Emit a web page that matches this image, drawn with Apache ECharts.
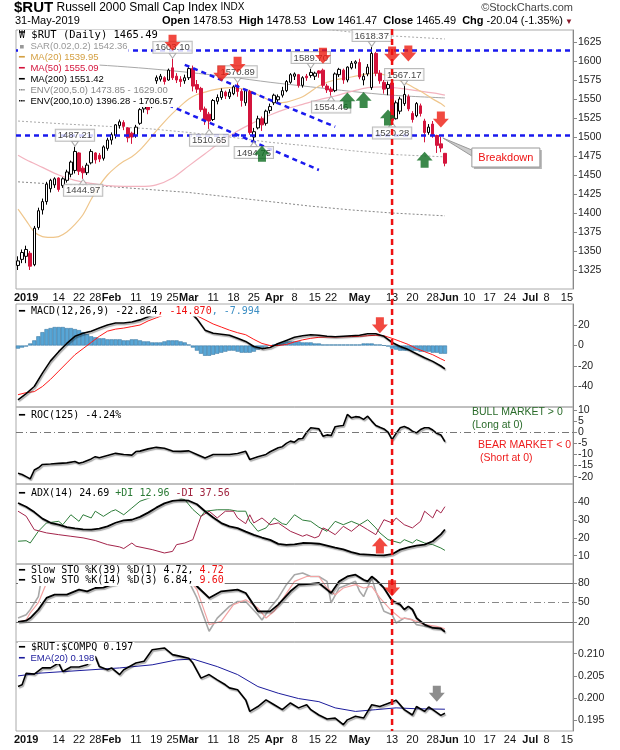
<!DOCTYPE html>
<html>
<head>
<meta charset="utf-8">
<script src="https://cdn.jsdelivr.net/npm/echarts@6/dist/echarts.min.js"></script>
<style>
  html, body { margin: 0; padding: 0; background: #fff; }
  #chart { width: 620px; height: 750px; }
</style>
</head>
<body>
<div id="chart"></div>
<script>
// trading days on the axis: Dec 28 2018 .. Jul 16 2019 (data ends May 31)
var daysDec18 = [28, 31];
var daysJan = [2,3,4,7,8,9,10,11,14,15,16,17,18,22,23,24,25,28,29,30,31];
var daysFeb = [1,4,5,6,7,8,11,12,13,14,15,19,20,21,22,25,26,27,28];
var daysMar = [1,4,5,6,7,8,11,12,13,14,15,18,19,20,21,22,25,26,27,28,29];
var daysApr = [1,2,3,4,5,8,9,10,11,12,15,16,17,18,22,23,24,25,26,29,30];
var daysMay = [1,2,3,6,7,8,9,10,13,14,15,16,17,20,21,22,23,24,28,29,30,31];
var daysJun = [3,4,5,6,7,10,11,12,13,14,17,18,19,20,21,24,25,26,27,28];
var daysJul = [1,2,3,5,8,9,10,11,12,15,16];
var monthNames = ['Jan','Feb','Mar','Apr','May','Jun','Jul','Aug','Sep','Oct','Nov','Dec'];

// $RUT daily candles from Dec 28 2018
var opens = [
  1331,1339,1343,1347,1332,1381,1404,1415,1432,1437,
  1446,1436,1443,1451,1456,1479,1459,1453,1466,1479,
  1476,1472,1485,1496,1502,1515,1519,1512,1505,1502,
  1518,1537,1540,1540,1574,1576,1578,1575,1591,1580,
  1576,1574,1578,1590,1569,1564,1537,1530,1523,1547,
  1552,1559,1553,1557,1568,1560,1545,1560,1500,1512,
  1524,1518,1535,1545,1549,1555,1561,1572,1580,1582,
  1568,1580,1581,1580,1587,1588,1567,1563,1561,1582,
  1588,1575,1591,1597,1598,1575,1583,1565,1610,1584,
  1572,1564,1571,1524,1534,1544,1553,1531,1528,1541,
  1521,1506,1517,1502,1491,1478.53];
var closes = [
  1337,1348,1352,1330,1380,1403,1415,1438,1443,1445,
  1431,1445,1454,1467,1481,1455,1453,1463,1481,1470,
  1471,1487,1496,1503,1516,1520,1514,1499,1500,1513,
  1536,1540,1536,1565,1578,1580,1573,1588,1578,1575,
  1573,1578,1590,1567,1563,1536,1522,1521,1548,1552,
  1560,1554,1559,1566,1560,1548,1561,1506,1507,1524,
  1516,1534,1540,1555,1553,1561,1573,1582,1583,1568,
  1578,1578,1585,1584,1584,1568,1562,1560,1583,1589,
  1575,1592,1597,1599,1579,1580,1592,1610,1584,1574,
  1563,1569,1522,1545,1550,1556,1537,1523,1544,1531,
  1506,1513,1503,1489,1485.53,1465.49];
var lows = [
  1325,1334,1334,1325,1330,1378,1398,1411,1427,1433,
  1428,1433,1440,1447,1452,1450,1444.97,1450,1464,1465,
  1467,1469,1482,1490,1498,1511,1509,1493,1491,1499,
  1516,1532,1530,1538,1570,1573,1569,1574,1575,1571,
  1566,1570,1575,1560,1558,1533,1516,1510.65,1521,1543,
  1549,1550,1550,1555,1553,1540,1541,1503,1494.75,1510,
  1508,1515,1531,1542,1546,1552,1559,1570,1575,1565,
  1565,1574,1578,1575,1578,1565,1558,1554.46,1559,1579,
  1570,1572,1589,1590,1576,1568,1580,1562,1580,1570,
  1557,1555,1520.28,1523,1530,1541,1534,1519,1526,1527,
  1493,1503,1499,1479,1480,1461.47];
var highs = [
  1343,1352,1357,1350,1383,1407,1419,1441,1445,1447,
  1447,1447,1457,1469,1487.21,1480,1462,1466,1484,1480,
  1479,1489,1499,1506,1517,1523,1522,1513,1507,1516,
  1538,1545,1543,1567,1581,1583,1580,1590,1603.10,1584,
  1580,1582,1592,1594,1575,1566,1540,1533,1550,1556,
  1564,1561,1563,1568,1570.89,1563,1563,1562,1512,1528,
  1527,1536,1544,1557,1556,1566,1575,1584,1585,1583,
  1580,1583,1589.70,1586,1588,1590,1570,1566,1585,1591,
  1590,1593,1600,1601,1603,1584,1596,1618.37,1612,1588,
  1575,1573,1573,1548,1553,1567.17,1556,1534,1546,1544,
  1524,1517,1521,1503,1500,1478.53];

// overlays: [trading day (0 = Jan 2), value]
var ma20 = [[-2,1405],[0,1390],[2,1375],[4,1369],[6,1368],[8,1369],[10,1375],[12,1385],[14,1398],[16,1418],[18,1436],[20,1450],[22,1460],[24,1468],[26,1474],[28,1483],[30,1495],[32,1508],[34,1520],[36,1531],[38,1541],[40,1550],[42,1556],[44,1559],[46,1562],[48,1564],[50,1565],[52,1564],[54,1563],[56,1558],[58,1553],[60,1548],[62,1545],[64,1546],[66,1549],[68,1553],[70,1560],[72,1567],[74,1572],[76,1575],[78,1577],[80,1579],[82,1581],[84,1583],[86,1584],[88,1582],[90,1579],[92,1574],[94,1569],[96,1563],[98,1557],[100,1550],[102,1544],[103,1539.95]];
var ma50 = [[-2,1476],[0,1470],[4,1460],[8,1450],[12,1443],[16,1439],[20,1436],[24,1435],[28,1435],[32,1437],[36,1446],[40,1462],[44,1478],[48,1494],[52,1508],[56,1519],[60,1529],[64,1537],[68,1543],[72,1549],[76,1554],[80,1560],[84,1565],[88,1566],[92,1564],[96,1561],[100,1558],[103,1555.09]];
var ma200 = [[-2,1601],[10,1597],[20,1594],[30,1590],[40,1585],[50,1579],[60,1572],[70,1566],[80,1560],[90,1555],[103,1551.42]];
var env5Up = [[-2,1681],[10,1677],[20,1674],[30,1670],[40,1664],[50,1658],[60,1651],[70,1644],[80,1638],[90,1633],[103,1629]];
var env5Dn = [[-2,1521],[10,1517],[20,1514],[30,1511],[40,1506],[50,1500],[60,1493],[70,1488],[80,1482],[90,1477],[103,1473.85]];
var env10Dn = [[-2,1441],[10,1437],[20,1435],[30,1431],[40,1427],[50,1421],[60,1415],[70,1409],[80,1404],[90,1400],[103,1396.28]];

// chartist annotations
var flatLines = [1613.5, 1502];
var trendTop = [[39,1595],[76,1513.5]];
var trendLow = [[35,1542],[72,1456.6]];
var peakTags = [[12,1487.21],[36,1603.10],[52,1570.89],[70,1589.70],[85,1618.37],[93,1567.17]];
var troughTags = [[14,1444.97],[45,1510.65],[56,1494.75],[75,1554.46],[90,1520.28]];
var redDown = [[36,1624],[48,1583.5],[52,1595],[73,1607],[90,1608.5],[94,1610],[102,1523]];
var greenUp = [[58,1478],[79,1548],[83,1548.7],[89,1525.7],[98,1470]];
var markDay = 90;      // May 13
var breakDay = 102;    // May 30

// MACD(12,26,9)
var macd = [[-2,-53],[0,-47],[2,-40],[4,-27],[6,-15],[8,-6],[10,2],[12,9],[14,12],[16,14],[18,17],[20,20],[22,22],[24,22],[26,23],[28,25],[30,28],[32,31],[34,35],[36,37],[38,37],[40,34],[42,26],[44,15],[46,12],[48,11],[50,10],[52,7],[54,4],[56,-1],[58,-3],[60,-2],[62,2],[64,5],[66,8],[68,9.5],[70,10.5],[72,10],[74,9],[76,8.5],[78,9],[80,9.5],[82,10],[84,11.5],[86,11.5],[88,9],[90,3],[92,-1],[94,-4],[96,-8],[98,-12],[100,-15.5],[102,-20],[103,-22.864]];
var macdSignal = [[-2,-48],[0,-46],[2,-45],[4,-40],[6,-33],[8,-25],[10,-17],[12,-9],[14,-3],[16,3],[18,9],[20,14],[22,16],[24,17],[26,18.5],[28,20],[30,24],[32,27],[34,30],[36,31.5],[38,32],[40,31],[42,29],[44,25],[46,21],[48,18],[50,15],[52,12.5],[54,10.5],[56,6],[58,2],[60,0],[62,0],[64,1],[66,3.5],[68,5.5],[70,7],[72,8],[74,8.3],[76,8.3],[78,8.5],[80,8.7],[82,9],[84,9.5],[86,10],[88,9.5],[90,7],[92,4],[94,1],[96,-3],[98,-6],[100,-9],[102,-13],[103,-14.87]];
var macdHist = [
  -3,-2,-1, 2,5,9, 13,16,17, 18,18,18,17,17,16, 15,13,11, 9,8,7,7,6,
  6,6,6,5,5,6,6,5, 4,4,3,3,3, 4,5,5,5,4,3,1, -2,-5,-8,-10, -10,-9,-8,-7,
  -6,-5,-5,-6,-7,-7, -7,-6,-4,-2, -1,0,1,2, 3,4,4,4,4,3,3,3,
  2,2,1,1,1,1,1,1,1,1, 1,1,2,2,2,1,1,0, -1,-3,-4,-5,-5,-5,-5,
  -5,-6,-6,-6,-7,-7,-8,-7.994];
var macdArrow = [[87,19.7]];

// ROC(125)
var roc = [[-2,-18.5],[-1,-19],[0,-20],[1,-21],[2,-17],[3,-16],[4,-14.5],[6,-14.3],[8,-14],[10,-13.8],[12,-13.2],[13,-14],[14,-13.5],[16,-12],[17,-11],[18,-11.5],[20,-10.5],[22,-9.5],[24,-10],[26,-10.3],[27,-8.7],[28,-8.5],[30,-7.5],[32,-6.8],[34,-7.2],[36,-8.5],[38,-8.6],[40,-8.4],[42,-10],[44,-11.6],[46,-10],[48,-10],[50,-10],[52,-9.6],[54,-8.6],[55,-12.3],[57,-11],[59,-10],[60,-8.8],[62,-7],[63,-6.5],[64,-5],[65,-4],[66,-4.5],[67,-3],[68,-2.8],[69,0],[70,2],[71,1.8],[72,1.5],[73,-1.8],[74,-1.2],[75,-1.5],[76,2.5],[77,2.8],[78,3],[79,8],[80,6.5],[81,7],[82,6.8],[83,5.8],[84,7.2],[85,5],[86,3],[87,2.2],[88,1.5],[89,0],[90,-3.3],[91,-0.5],[92,2],[93,2.6],[94,1.8],[95,0.5],[96,-0.3],[97,1.2],[98,2],[99,2],[100,1],[101,-0.5],[102,-1.2],[103,-4.24]];

// ADX(14)
var adx = [[-2,39.6],[0,37.5],[2,34.5],[4,30.8],[6,28.5],[8,27.4],[10,26],[12,25.3],[14,24.8],[16,24.6],[18,25.2],[20,26.5],[22,28.5],[24,29.8],[26,30.2],[28,31.8],[30,34.2],[32,37],[34,39.4],[36,40.8],[38,41.2],[40,40.9],[42,38.9],[44,35],[46,31.5],[48,28.3],[50,26.5],[52,25.5],[54,23.5],[56,21.7],[58,20.2],[60,18.9],[62,16.6],[64,16.1],[66,16.3],[68,17.1],[70,17],[72,16.7],[74,15.6],[76,14.5],[78,13.5],[80,12],[82,10.8],[84,10.6],[86,10.3],[88,10.2],[90,10.8],[92,13.4],[94,14.6],[96,15.6],[98,16.2],[100,18.1],[102,22],[103,24.69]];
var plusDI = [[-2,18.1],[0,18.4],[1,17.1],[3,23.7],[5,28.4],[8,29.3],[9,27.4],[11,33],[13,29.3],[14,33],[16,31.2],[17,35],[19,32.1],[21,35],[22,35.8],[24,33],[26,36.8],[28,40.6],[31,43],[34,46],[37,43],[39,41.5],[41,36],[43,32],[44,35],[47,35.8],[50,35.8],[52,35],[54,35],[55,29.3],[57,23.7],[59,25.6],[61,31.2],[63,28],[64,27.4],[66,33],[68,30],[70,29.3],[72,26],[74,23.7],[76,29.3],[78,27.4],[80,29.3],[82,27.4],[84,30.2],[86,25.6],[87,22.8],[89,19],[92,17.1],[93,19],[95,17.1],[96,19],[98,17.1],[100,16.2],[102,14.3],[103,12.96]];
var minusDI = [[-2,35],[0,32.2],[2,24.6],[5,22.8],[8,21.8],[11,20.9],[14,20],[17,18.5],[20,16.2],[23,14.9],[24,14],[26,17.1],[27,15.3],[31,13.4],[34,11.5],[36,12.4],[37,16.2],[39,17.1],[41,19],[42,25.6],[43,32.1],[45,35],[47,31.2],[49,35],[51,35],[52,31.2],[54,28],[55,33],[56,28.4],[58,31.2],[60,27.4],[62,28.4],[65,23.7],[68,20.9],[69,21.8],[71,20],[72,20.9],[73,25.6],[74,24.6],[76,21.8],[78,26.5],[80,23.7],[82,27.4],[84,24.6],[86,21.8],[88,30.2],[90,28.4],[91,31.2],[93,27.4],[95,25.6],[97,29.3],[98,35],[100,31.2],[101,35.8],[102,34],[103,37.56]];
var adxArrow = [[87,15.7]];

// Slow stochastics
var stoK39 = [[-2,20],[0,22],[1,26],[3,39],[5,57],[7,62],[10,62],[13,69.7],[15,67],[17,72.3],[19,73],[21,77.4],[22,78.5],[25,85],[30,92],[35,95],[38,93],[40,87.7],[42,75],[45,57],[48,67.2],[52,69.7],[54,64.6],[57,36.4],[60,36.4],[62,46.7],[65,67.2],[67,77.4],[70,78.5],[72,80],[74,69.7],[75,64.6],[77,82.5],[79,90],[81,92.8],[83,85],[84,82.5],[85,90],[86,85],[88,72.3],[90,52.8],[92,46.7],[93,39.2],[94,44],[95,39.2],[96,26.2],[98,15.9],[100,10.8],[102,10],[103,4.72]];
var stoK14 = [[-2,26],[0,31],[1,39],[3,59],[4,95],[6,98],[10,92],[15,96],[20,90],[25,97],[30,94],[35,98],[38,92],[40,82.5],[42,57],[45,5.7],[47,26],[50,44],[52,51.5],[54,51.5],[57,31.2],[58,23],[60,41.5],[62,57],[64,77.4],[66,92.8],[68,95.4],[70,90],[72,90],[74,82.5],[75,49.3],[77,72.3],[79,77.4],[81,82.5],[82,67.2],[83,59],[85,87.7],[86,67.2],[88,36.4],[90,31.2],[91,18.5],[93,26],[95,23.3],[96,15.9],[98,13.3],[101,11.8],[103,6.84]];
var stoD3 = [[-2,20],[0,23],[1,34],[3,49.7],[5,80],[8,95],[15,94],[25,95],[35,96],[38,93],[40,85],[42,69.7],[45,15.9],[48,21],[51,46.7],[54,54.3],[57,41.5],[59,26],[61,36.4],[63,54.3],[66,82.5],[69,90],[72,90],[74,72.3],[76,62],[78,72.3],[81,77.4],[83,72.3],[85,74.9],[87,57],[90,36.4],[92,26],[94,25],[96,21],[98,15.9],[101,13.3],[103,9.6]];
var stoArrow = [[90,72]];

// $RUT:$COMPQ ratio
var ratio = [[-2,0.2026],[-1,0.2030],[0,0.2056],[2,0.2054],[4,0.2068],[6,0.2068],[8,0.2079],[9,0.2060],[11,0.2070],[13,0.2070],[15,0.2075],[17,0.2094],[18,0.2071],[20,0.2064],[21,0.2068],[23,0.2053],[24,0.2064],[27,0.2079],[29,0.2083],[31,0.2109],[34,0.2113],[36,0.2098],[38,0.2094],[40,0.2090],[41,0.2079],[43,0.2045],[45,0.2053],[47,0.2041],[49,0.2030],[50,0.2023],[52,0.2019],[54,0.1996],[55,0.1970],[57,0.1981],[59,0.1996],[61,0.1985],[63,0.1974],[65,0.1989],[67,0.1978],[69,0.1985],[70,0.1974],[72,0.1962],[74,0.1953],[76,0.1955],[78,0.1940],[79,0.1951],[81,0.1959],[83,0.1955],[85,0.1985],[87,0.1981],[89,0.1988],[91,0.1995],[93,0.1974],[95,0.1962],[96,0.1981],[98,0.1970],[99,0.1980],[100,0.1974],[102,0.1961],[103,0.1966]];
var ratioEma = [[-2,0.2050],[3,0.2056],[13,0.2062],[23,0.2068],[31,0.2075],[37,0.2086],[41,0.2088],[47,0.2071],[52,0.2053],[57,0.2026],[62,0.2011],[67,0.1999],[72,0.1992],[76,0.1978],[81,0.1970],[86,0.1974],[91,0.1978],[96,0.1976],[103,0.1975]];
var ratioArrow = [[101,0.2010]];

// axis tick labels
var priceTicks = [1325,1350,1375,1400,1425,1450,1475,1500,1525,1550,1575,1600,1625];
var macdTicks = [20,0,-20,-40];
var rocTicks = [10,5,0,-5,-10,-15,-20];
var adxTicks = [10,20,30,40];
var stoTicks = [20,50,80];
var ratioTicks = [0.195,0.200,0.205,0.210];

var FONT = 'Liberation Sans, Arial, sans-serif';
var MONO = 'DejaVu Sans Mono, monospace';
var T0 = 2; // Dec 28 and Dec 31 sit before Jan 2

function at(pts) { return pts.map(function (p) { return [p[0] + T0, p[1]]; }); }

// build categories and which ones get a label
var cats = [], tickLab = [], monthStart = [];
var months = [[2018,12,daysDec18],[2019,1,daysJan],[2019,2,daysFeb],[2019,3,daysMar],[2019,4,daysApr],[2019,5,daysMay],[2019,6,daysJun],[2019,7,daysJul]];
months.forEach(function (m, mi) {
  if (mi > 0) monthStart.push(cats.length);
  m[2].forEach(function (d) { cats.push(m[0] + '-' + m[1] + '-' + d); });
});
var prevDay = null, idx = 0;
months.forEach(function (m, mi) {
  m[2].forEach(function (d, di) {
    var dt = new Date(Date.UTC(m[0], m[1] - 1, d));
    var lab = '';
    if (mi > 0 && di === 0) {
      lab = '{b|' + (m[1] === 1 ? m[0] : monthNames[m[1] - 1]) + '}';
    } else if (mi > 0 && prevDay && (dt.getUTCDay() < prevDay.getUTCDay() || dt - prevDay >= 7 * 864e5)) {
      var near = monthStart.some(function (s) { return Math.abs(s - idx) <= 3; });
      if (!near) lab = String(d);
    }
    tickLab.push(lab);
    prevDay = dt;
    idx++;
  });
});

var panels = [[30,259],[304,103],[407,77],[484,80],[564,78],[642,89]];
var grids = panels.map(function (p) {
  return {left: 16, right: 47, top: p[0], height: p[1], show: true, borderColor: '#aaa', borderWidth: 1, outerBoundsMode: 'none'};
});

function xAx(g, show) {
  return {
    type: 'category', gridIndex: g, data: cats, boundaryGap: true,
    axisLine: {show: false}, axisTick: {show: false}, splitLine: {show: false},
    axisLabel: {
      show: show, margin: 3, fontSize: 11, color: '#111', fontFamily: FONT,
      interval: function (i) { return tickLab[i] !== ''; },
      formatter: function (v, i) { return tickLab[i]; },
      rich: {b: {fontWeight: 'bold', fontSize: 11, color: '#111', fontFamily: FONT}}
    }
  };
}
function yAx(g, min, max, ticks, fmt) {
  return {
    type: 'value', gridIndex: g, position: 'right', min: min, max: max,
    axisLine: {show: true, lineStyle: {color: '#888'}},
    axisTick: {show: true, length: 4, lineStyle: {color: '#888'}, customValues: ticks},
    axisLabel: {customValues: ticks, margin: 5, fontSize: 10.5, color: '#222', fontFamily: FONT,
      formatter: fmt || function (v) { return String(v); }},
    splitLine: {show: false}
  };
}

function ln(g, pts, color, width, more) {
  var s = {type: 'line', xAxisIndex: g, yAxisIndex: g, data: at(pts), symbol: 'none', silent: true,
    lineStyle: {color: color, width: width}, z: 2};
  return Object.assign(s, more || {});
}
function shadowLine(g, pts, width) {
  return ln(g, pts, '#000', width, {z: 4, lineStyle: {color: '#000', width: width,
    shadowColor: 'rgba(0,0,0,0.35)', shadowBlur: 1, shadowOffsetX: 1, shadowOffsetY: 1.5}});
}

var downPath = 'path://M2.5,0L7.5,0L7.5,4.5L10,4.5L5,10L0,4.5L2.5,4.5Z';
var upPath = 'path://M2.5,10L7.5,10L7.5,5.5L10,5.5L5,0L0,5.5L2.5,5.5Z';
function arrows(g, pts, path, color) {
  return {type: 'scatter', xAxisIndex: g, yAxisIndex: g, data: at(pts), symbol: path,
    symbolSize: [16, 16], itemStyle: {color: color}, silent: true, z: 9};
}
function tags(pts, above) {
  return {
    type: 'scatter', xAxisIndex: 0, yAxisIndex: 0, data: at(pts), silent: true, z: 8,
    symbol: above ? 'path://M0,0L10,0L5,10Z' : 'path://M5,0L10,10L0,10Z',
    symbolSize: [7, 5], symbolOffset: [0, above ? -3 : 3],
    itemStyle: {color: '#fff', borderColor: '#999', borderWidth: 1},
    label: {show: true, position: above ? 'top' : 'bottom', distance: 0,
      formatter: function (p) { return p.value[1].toFixed(2); },
      fontFamily: FONT, fontSize: 9.5, color: '#111', backgroundColor: '#fff',
      borderColor: '#aaa', borderWidth: 1, padding: [1, 2, 0, 2]}
  };
}

var dashDot = [7, 3, 1, 3];
var blue = '#1a1aee';

function tag(left, top, text, style, rich) {
  return {left: left, top: top, text: text, padding: [0, 1], itemGap: 0, backgroundColor: '#fff', z: 20,
    textStyle: Object.assign({fontFamily: MONO, fontSize: 10, color: '#000', fontWeight: 'normal', lineHeight: 11}, style || {}, {rich: rich || {}})};
}
function note(left, top, text, color, size) {
  return {left: left, top: top, text: text, padding: 0, z: 20,
    textStyle: {fontFamily: FONT, fontSize: size, color: color, fontWeight: 'normal'}};
}
var mk = {fontFamily: MONO, fontSize: 9.5};
var ovl = {fontFamily: FONT, fontSize: 9.5};

var titles = [
  {left: 14, top: 0, padding: 0, text: '{a|$RUT} Russell 2000 Small Cap Index {c|INDX}',
    textStyle: {fontFamily: FONT, fontSize: 12, color: '#000', fontWeight: 'normal',
      rich: {a: {fontSize: 15, fontWeight: 'bold', fontFamily: FONT}, c: {fontSize: 10, fontFamily: FONT}}}},
  note(15, 15, '31-May-2019', '#000', 11),
  {right: 57, top: 15, padding: 0, text: '{b|Open} 1478.53  {b|High} 1478.53  {b|Low} 1461.47  {b|Close} 1465.49  {b|Chg} -20.04 (-1.35%)',
    textStyle: {fontFamily: FONT, fontSize: 11, color: '#000', fontWeight: 'normal', rich: {b: {fontWeight: 'bold', fontSize: 11, fontFamily: FONT}}}},
  {right: 47, top: 18, padding: 0, text: '▼', textStyle: {fontSize: 8, color: '#8b1a2b', fontWeight: 'normal'}},
  {right: 47, top: 2, padding: 0, text: '©StockCharts.com', textStyle: {fontFamily: FONT, fontSize: 11, color: '#444', fontWeight: 'normal'}},

  tag(18, 30, '{m|₩} $RUT (Daily) 1465.49', {fontSize: 10.5}, {m: {fontSize: 10}}),
  tag(18, 41, '{m|▪ }SAR(0.02,0.2) 1542.36', Object.assign({color: '#999'}, ovl), {m: mk}),
  tag(18, 52, '{m|━ }MA(20) 1539.95', Object.assign({color: '#d4a043'}, ovl), {m: mk}),
  tag(18, 63, '{m|━ }MA(50) 1555.09', Object.assign({color: '#d4143c'}, ovl), {m: mk}),
  tag(18, 74, '{m|━ }MA(200) 1551.42', Object.assign({color: '#000'}, ovl), {m: mk}),
  tag(18, 85, '{m|┅ }ENV(200,5.0) 1473.85 - 1629.00', Object.assign({color: '#888'}, ovl), {m: mk}),
  tag(18, 96, '{m|┅ }ENV(200,10.0) 1396.28 - 1706.57', Object.assign({color: '#000'}, ovl), {m: mk}),

  tag(18, 305.5, '━ MACD(12,26,9) -22.864{r|, -14.870}{b|, -7.994}', {}, {r: {color: '#ee1111'}, b: {color: '#3d8fc4'}}),
  tag(18, 409.5, '━ ROC(125) -4.24%'),
  tag(18, 487.5, '━ ADX(14) 24.69 {g|+DI 12.96} {r|-DI 37.56}', {}, {g: {color: '#2a7a35'}, r: {color: '#a0243f'}}),
  tag(18, 565, '━ Slow STO %K(39) %D(1) 4.72, {r|4.72}', {}, {r: {color: '#ee1111'}}),
  tag(18, 575, '━ Slow STO %K(14) %D(3) 6.84, {r|9.60}', {}, {r: {color: '#ee1111'}}),
  tag(18, 642, '━ $RUT:$COMPQ 0.197'),
  tag(18, 653, '{m|━ }EMA(20) 0.198', Object.assign({color: '#1c1c9c'}, ovl), {m: mk}),

  note(472, 407, 'BULL MARKET > 0', '#2a6b2a', 10.5),
  note(472, 420, '(Long at 0)', '#2a6b2a', 10.5),
  note(478, 440, 'BEAR MARKET < 0', '#ee1c1c', 10.5),
  note(480, 453, '(Short at 0)', '#ee1c1c', 10.5)
];

var series = [
  // main price panel
  ln(0, env10Dn, '#888', 1, {lineStyle: {color: '#888', width: 1, type: [2, 2]}}),
  ln(0, env5Dn, '#aaa', 1, {lineStyle: {color: '#aaa', width: 1, type: [2, 2]}}),
  ln(0, env5Up, '#aaa', 1, {lineStyle: {color: '#aaa', width: 1, type: [2, 2]}}),
  ln(0, ma200, '#a8a8a8', 1, {smooth: 0.3}),
  ln(0, ma50, '#f3b3bf', 1.2, {smooth: 0.3}),
  ln(0, ma20, '#efc68c', 1.2, {smooth: 0.3}),
  {type: 'candlestick', xAxisIndex: 0, yAxisIndex: 0, silent: true, z: 3, barWidth: 3,
    data: opens.map(function (o, i) { return [o, closes[i], lows[i], highs[i]]; }),
    itemStyle: {color: '#fff', color0: '#d4143c', borderColor: '#000', borderColor0: '#d4143c', borderWidth: 1}},
  ln(0, trendTop, blue, 2.5, {z: 5, lineStyle: {color: blue, width: 2.5, type: [5, 4]},
    markLine: {symbol: ['none', 'none'], silent: true, label: {show: false},
      lineStyle: {color: blue, width: 2.5, type: [5, 4]},
      data: [{yAxis: flatLines[0]}, {yAxis: flatLines[1]},
        [{coord: [trendLow[0][0] + T0, trendLow[0][1]]}, {coord: [trendLow[1][0] + T0, trendLow[1][1]]}]]}}),
  tags(peakTags, true),
  tags(troughTags, false),
  arrows(0, redDown, downPath, '#ee1c10'),
  arrows(0, greenUp, upPath, '#0b6b1e'),

  // MACD
  {type: 'bar', xAxisIndex: 1, yAxisIndex: 1, data: macdHist, barCategoryGap: '0%', silent: true, z: 2,
    itemStyle: {color: '#58a6d6', borderColor: '#2c6c98', borderWidth: 0.5}},
  ln(1, macdSignal, '#ff1a1a', 1, {z: 3}),
  shadowLine(1, macd, 1.6),
  arrows(1, macdArrow, downPath, '#ee1c10'),

  // ROC
  shadowLine(2, roc, 1.6),
  ln(2, [[0, 0]], '#888', 1, {markLine: {symbol: ['none', 'none'], silent: true, label: {show: false},
    lineStyle: {color: '#777', width: 1, type: dashDot}, data: [{yAxis: 0}]}}),

  // ADX
  ln(3, plusDI, '#2e7d3a', 1, {z: 3}),
  ln(3, minusDI, '#a3234a', 1, {z: 3}),
  shadowLine(3, adx, 1.8),
  arrows(3, adxArrow, upPath, '#ee1c10'),

  // Stochastics
  ln(4, stoK14, '#a8a8a8', 1.6, {z: 3, markLine: {symbol: ['none', 'none'], silent: true, label: {show: false},
    data: [{yAxis: 80, lineStyle: {color: '#707070', width: 1, type: 'solid'}},
           {yAxis: 20, lineStyle: {color: '#707070', width: 1, type: 'solid'}},
           {yAxis: 50, lineStyle: {color: '#888', width: 1, type: dashDot}}]}}),
  ln(4, stoD3, '#f4a3a3', 1.2, {z: 3}),
  shadowLine(4, stoK39, 1.8),
  arrows(4, stoArrow, downPath, '#ee1c10'),

  // ratio
  ln(5, ratioEma, '#1c1c9c', 1, {z: 3}),
  shadowLine(5, ratio, 1.6),
  arrows(5, ratioArrow, downPath, '#707070')
];

var option = {
  animation: false,
  backgroundColor: '#fff',
  title: titles,
  grid: grids,
  xAxis: [xAx(0, true), xAx(1, false), xAx(2, false), xAx(3, false), xAx(4, false), xAx(5, true)],
  yAxis: [
    yAx(0, 1300, 1640.8, priceTicks),
    yAx(1, -60, 40.5, macdTicks),
    yAx(2, -23.3, 11.35, rocTicks),
    yAx(3, 5.3, 50.3, adxTicks),
    yAx(4, -10.8, 109.2, stoTicks),
    yAx(5, 0.19259, 0.21264, ratioTicks, function (v) { return v.toFixed(3); })
  ],
  series: series
};

var chart = echarts.init(document.getElementById('chart'));
chart.setOption(option);

// pixel anchors taken from the axes, used for the drawn annotations
var topPt = chart.convertToPixel({gridIndex: 0}, [markDay + T0, 1640.8]);
var botPt = chart.convertToPixel({gridIndex: 5}, [markDay + T0, 0.19259]);
var bk = chart.convertToPixel({gridIndex: 0}, [breakDay + T0, 1500]);

option.graphic = [
  {type: 'line', z: 30, shape: {x1: topPt[0], y1: topPt[1] - 1, x2: topPt[0], y2: botPt[1]},
    style: {stroke: '#ee1111', lineWidth: 2.5, lineDash: [6, 4]}},
  {type: 'polygon', z: 30, shape: {points: [[bk[0] + 2, bk[1] + 1], [bk[0] + 31, bk[1] + 13], [bk[0] + 31, bk[1] + 19]]},
    style: {fill: '#ccc', stroke: '#999', lineWidth: 1}},
  {type: 'rect', z: 30, shape: {x: bk[0] + 33, y: bk[1] + 13, width: 68, height: 19}, style: {fill: '#b5b5b5'}},
  {type: 'rect', z: 31, shape: {x: bk[0] + 31, y: bk[1] + 11, width: 68, height: 19},
    style: {fill: '#fff', stroke: '#999', lineWidth: 1}},
  {type: 'text', z: 32, x: bk[0] + 65, y: bk[1] + 20.5,
    style: {text: 'Breakdown', fill: '#ee1111', font: '11px Liberation Sans', textAlign: 'center', verticalAlign: 'middle', textVerticalAlign: 'middle'}}
];
chart.setOption(option, true);
</script>
</body>
</html>
